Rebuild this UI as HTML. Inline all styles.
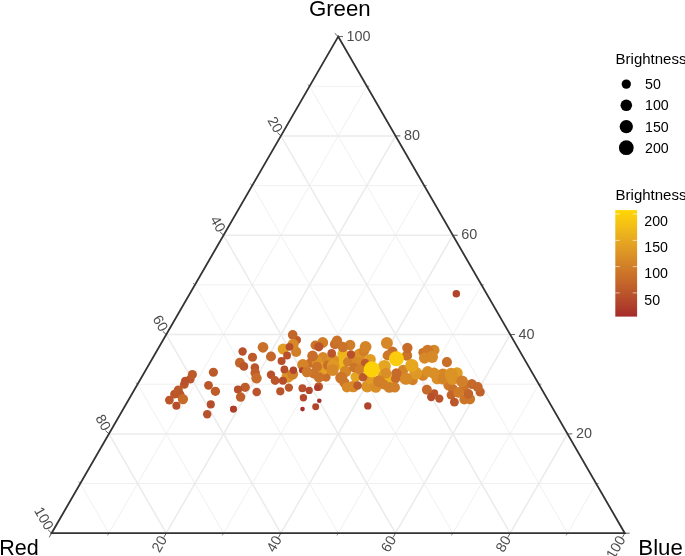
<!DOCTYPE html><html><head><meta charset="utf-8"><title>Ternary plot</title>
<style>html,body{margin:0;padding:0;background:#fff;}body{width:685px;height:556px;overflow:hidden;}svg{display:block;font-family:"Liberation Sans",sans-serif;}</style></head><body>
<svg width="685" height="556" viewBox="0 0 685 556">
<rect width="685" height="556" fill="#fff"/>
<g stroke="#EBEBEB" fill="none">
<path d="M80.26,483.54 L596.14,483.54" stroke-width="0.75"/>
<path d="M309.54,86.26 L567.48,533.20" stroke-width="0.75"/>
<path d="M366.86,86.26 L108.92,533.20" stroke-width="0.75"/>
<path d="M108.92,433.88 L567.48,433.88" stroke-width="1.50"/>
<path d="M280.88,135.92 L510.16,533.20" stroke-width="1.50"/>
<path d="M395.52,135.92 L166.24,533.20" stroke-width="1.50"/>
<path d="M137.58,384.22 L538.82,384.22" stroke-width="0.75"/>
<path d="M252.22,185.58 L452.84,533.20" stroke-width="0.75"/>
<path d="M424.18,185.58 L223.56,533.20" stroke-width="0.75"/>
<path d="M166.24,334.56 L510.16,334.56" stroke-width="1.50"/>
<path d="M223.56,235.24 L395.52,533.20" stroke-width="1.50"/>
<path d="M452.84,235.24 L280.88,533.20" stroke-width="1.50"/>
<path d="M194.90,284.90 L481.50,284.90" stroke-width="0.75"/>
<path d="M194.90,284.90 L338.20,533.20" stroke-width="0.75"/>
<path d="M481.50,284.90 L338.20,533.20" stroke-width="0.75"/>
<path d="M223.56,235.24 L452.84,235.24" stroke-width="1.50"/>
<path d="M166.24,334.56 L280.88,533.20" stroke-width="1.50"/>
<path d="M510.16,334.56 L395.52,533.20" stroke-width="1.50"/>
<path d="M252.22,185.58 L424.18,185.58" stroke-width="0.75"/>
<path d="M137.58,384.22 L223.56,533.20" stroke-width="0.75"/>
<path d="M538.82,384.22 L452.84,533.20" stroke-width="0.75"/>
<path d="M280.88,135.92 L395.52,135.92" stroke-width="1.50"/>
<path d="M108.92,433.88 L166.24,533.20" stroke-width="1.50"/>
<path d="M567.48,433.88 L510.16,533.20" stroke-width="1.50"/>
<path d="M309.54,86.26 L366.86,86.26" stroke-width="0.75"/>
<path d="M80.26,483.54 L108.92,533.20" stroke-width="0.75"/>
<path d="M596.14,483.54 L567.48,533.20" stroke-width="0.75"/>
</g>
<g>
<circle cx="190.2" cy="379.2" r="4.40" fill="#BB562B"/>
<circle cx="184.3" cy="384.3" r="4.40" fill="#BB562B"/>
<circle cx="174.5" cy="394.1" r="4.40" fill="#BB562B"/>
<circle cx="239.9" cy="362.8" r="4.98" fill="#C3652A"/>
<circle cx="254.9" cy="367.6" r="4.33" fill="#BA542B"/>
<circle cx="245.2" cy="387.3" r="4.67" fill="#BE5C2A"/>
<circle cx="297.0" cy="340.0" r="3.96" fill="#BD5A2A"/>
<circle cx="296.2" cy="351.9" r="5.05" fill="#D07E28"/>
<circle cx="283.2" cy="349.1" r="5.51" fill="#E19C23"/>
<circle cx="315.2" cy="345.2" r="4.67" fill="#CB7329"/>
<circle cx="322.7" cy="342.5" r="5.47" fill="#D07E28"/>
<circle cx="310.5" cy="363.0" r="4.83" fill="#C86F29"/>
<circle cx="323.0" cy="357.5" r="5.43" fill="#D68727"/>
<circle cx="287.8" cy="376.5" r="6.24" fill="#DC9325"/>
<circle cx="318.7" cy="386.6" r="4.34" fill="#BA542B"/>
<circle cx="302.9" cy="364.7" r="5.72" fill="#D48327"/>
<circle cx="301.8" cy="370.2" r="2.91" fill="#B0422B"/>
<circle cx="317.2" cy="361.5" r="5.58" fill="#DC9325"/>
<circle cx="326.0" cy="377.0" r="4.65" fill="#C86F29"/>
<circle cx="335.0" cy="344.2" r="5.08" fill="#C86D2A"/>
<circle cx="350.1" cy="345.0" r="5.29" fill="#D07E28"/>
<circle cx="342.9" cy="354.1" r="5.61" fill="#EDB41C"/>
<circle cx="359.6" cy="354.9" r="6.33" fill="#DB9125"/>
<circle cx="364.0" cy="351.0" r="5.17" fill="#D07E28"/>
<circle cx="370.3" cy="359.4" r="5.51" fill="#E19C23"/>
<circle cx="340.4" cy="363.0" r="6.69" fill="#EFB81A"/>
<circle cx="323.7" cy="368.5" r="6.00" fill="#E3A022"/>
<circle cx="353.5" cy="361.5" r="5.16" fill="#D78927"/>
<circle cx="345.5" cy="371.5" r="5.72" fill="#D58627"/>
<circle cx="344.5" cy="382.7" r="5.07" fill="#CC7529"/>
<circle cx="346.9" cy="387.4" r="5.07" fill="#D78927"/>
<circle cx="353.2" cy="386.6" r="5.75" fill="#D78927"/>
<circle cx="367.3" cy="386.5" r="6.01" fill="#DC9325"/>
<circle cx="355.6" cy="376.8" r="5.14" fill="#E5A421"/>
<circle cx="370.3" cy="378.7" r="5.36" fill="#E19C23"/>
<circle cx="392.4" cy="351.7" r="5.22" fill="#C86F29"/>
<circle cx="387.7" cy="355.5" r="5.09" fill="#CD7729"/>
<circle cx="407.0" cy="355.5" r="5.18" fill="#CB7329"/>
<circle cx="384.5" cy="366.2" r="6.32" fill="#E5A421"/>
<circle cx="383.5" cy="375.2" r="5.71" fill="#E3A022"/>
<circle cx="390.0" cy="380.3" r="5.30" fill="#EDB41C"/>
<circle cx="375.8" cy="387.4" r="5.36" fill="#D98E26"/>
<circle cx="403.1" cy="370.0" r="5.24" fill="#D48327"/>
<circle cx="405.1" cy="378.7" r="5.75" fill="#D78927"/>
<circle cx="422.9" cy="375.6" r="5.24" fill="#D48327"/>
<circle cx="412.7" cy="380.3" r="5.04" fill="#D17F28"/>
<circle cx="422.9" cy="352.5" r="4.58" fill="#CB7329"/>
<circle cx="434.0" cy="350.2" r="5.51" fill="#D58627"/>
<circle cx="437.2" cy="378.7" r="5.60" fill="#D98E26"/>
<circle cx="443.0" cy="374.6" r="6.02" fill="#D58627"/>
<circle cx="434.3" cy="393.2" r="3.89" fill="#BB562B"/>
<circle cx="439.3" cy="398.6" r="4.19" fill="#BA542B"/>
<circle cx="457.0" cy="373.1" r="5.75" fill="#E19C23"/>
<circle cx="480.2" cy="391.9" r="4.62" fill="#C0602A"/>
<circle cx="448.7" cy="385.3" r="5.32" fill="#CE7929"/>
<circle cx="452.9" cy="389.0" r="4.95" fill="#CB7329"/>
<circle cx="451.1" cy="395.0" r="4.46" fill="#C3652A"/>
<circle cx="454.4" cy="402.1" r="4.46" fill="#BC572B"/>
<circle cx="470.0" cy="399.1" r="5.15" fill="#CD7729"/>
<circle cx="464.3" cy="399.6" r="4.97" fill="#CC7529"/>
<circle cx="463.8" cy="388.3" r="4.88" fill="#CB7329"/>
<circle cx="313.5" cy="373.5" r="4.88" fill="#CB7329"/>
<circle cx="359.5" cy="362.5" r="5.16" fill="#D78927"/>
<circle cx="443.2" cy="379.0" r="5.54" fill="#D48327"/>
<circle cx="192.4" cy="374.6" r="4.57" fill="#BD5A2A"/>
<circle cx="185.2" cy="380.9" r="4.22" fill="#B8512B"/>
<circle cx="178.3" cy="390.1" r="4.57" fill="#BD5A2A"/>
<circle cx="180.2" cy="394.7" r="4.40" fill="#BB562B"/>
<circle cx="169.4" cy="400.1" r="4.40" fill="#BB562B"/>
<circle cx="176.4" cy="405.8" r="4.03" fill="#B64D2B"/>
<circle cx="213.4" cy="372.3" r="4.57" fill="#BD5A2A"/>
<circle cx="208.5" cy="385.3" r="4.40" fill="#BB562B"/>
<circle cx="215.4" cy="391.3" r="4.67" fill="#BE5C2A"/>
<circle cx="210.8" cy="404.4" r="4.03" fill="#B64D2B"/>
<circle cx="207.2" cy="414.3" r="4.22" fill="#B8512B"/>
<circle cx="233.4" cy="409.2" r="3.38" fill="#AF3F2B"/>
<circle cx="242.6" cy="351.5" r="4.22" fill="#B8512B"/>
<circle cx="252.5" cy="357.2" r="4.57" fill="#BD5A2A"/>
<circle cx="243.9" cy="366.4" r="4.40" fill="#BB562B"/>
<circle cx="263.0" cy="347.3" r="5.33" fill="#C86F29"/>
<circle cx="271.0" cy="356.5" r="5.04" fill="#C4672A"/>
<circle cx="255.2" cy="372.9" r="4.74" fill="#BF5E2A"/>
<circle cx="271.0" cy="374.8" r="4.22" fill="#B8512B"/>
<circle cx="275.1" cy="380.5" r="4.40" fill="#BB562B"/>
<circle cx="238.0" cy="389.5" r="4.11" fill="#B74F2B"/>
<circle cx="240.6" cy="397.1" r="4.74" fill="#BF5E2A"/>
<circle cx="256.7" cy="392.0" r="4.33" fill="#BA542B"/>
<circle cx="292.7" cy="334.9" r="4.84" fill="#C3652A"/>
<circle cx="293.1" cy="344.4" r="5.54" fill="#D78927"/>
<circle cx="281.6" cy="361.0" r="4.01" fill="#B74F2B"/>
<circle cx="318.8" cy="346.8" r="4.58" fill="#BA542B"/>
<circle cx="312.6" cy="356.0" r="5.41" fill="#C86D2A"/>
<circle cx="292.7" cy="374.2" r="5.43" fill="#D17F28"/>
<circle cx="282.9" cy="380.8" r="4.01" fill="#B74F2B"/>
<circle cx="288.9" cy="387.6" r="4.16" fill="#BC572B"/>
<circle cx="280.3" cy="391.3" r="4.10" fill="#BA542B"/>
<circle cx="302.4" cy="388.3" r="3.96" fill="#B74F2B"/>
<circle cx="309.2" cy="390.4" r="3.61" fill="#B2462B"/>
<circle cx="317.3" cy="387.8" r="3.18" fill="#AE3C2B"/>
<circle cx="303.4" cy="397.7" r="3.68" fill="#B4492B"/>
<circle cx="319.3" cy="400.7" r="2.31" fill="#A8302A"/>
<circle cx="315.7" cy="406.7" r="3.49" fill="#B2462B"/>
<circle cx="302.5" cy="409.1" r="2.33" fill="#A72E2A"/>
<circle cx="307.0" cy="372.0" r="5.35" fill="#CE7929"/>
<circle cx="316.9" cy="366.8" r="5.17" fill="#CB7429"/>
<circle cx="318.9" cy="377.3" r="5.29" fill="#CB7429"/>
<circle cx="337.0" cy="340.7" r="5.16" fill="#CB7329"/>
<circle cx="342.9" cy="347.0" r="5.16" fill="#CB7329"/>
<circle cx="365.6" cy="346.8" r="5.88" fill="#D48427"/>
<circle cx="365.1" cy="363.0" r="4.32" fill="#BD5A2A"/>
<circle cx="332.6" cy="360.3" r="6.38" fill="#DB9025"/>
<circle cx="347.7" cy="362.0" r="4.68" fill="#D17F28"/>
<circle cx="354.0" cy="367.7" r="4.83" fill="#CC7529"/>
<circle cx="359.6" cy="369.5" r="4.95" fill="#D17F28"/>
<circle cx="341.2" cy="377.8" r="6.00" fill="#CC7529"/>
<circle cx="357.6" cy="385.5" r="4.32" fill="#BD5A2A"/>
<circle cx="363.0" cy="377.2" r="4.32" fill="#BD5A2A"/>
<circle cx="386.9" cy="342.9" r="6.00" fill="#D68727"/>
<circle cx="407.4" cy="347.8" r="5.17" fill="#C66B2A"/>
<circle cx="386.1" cy="373.2" r="5.38" fill="#DA8F26"/>
<circle cx="395.6" cy="378.7" r="4.68" fill="#C66B2A"/>
<circle cx="383.7" cy="384.5" r="5.02" fill="#D07E28"/>
<circle cx="389.3" cy="387.4" r="5.43" fill="#D17F28"/>
<circle cx="394.8" cy="387.4" r="5.19" fill="#D17F28"/>
<circle cx="415.8" cy="373.2" r="6.39" fill="#DF9824"/>
<circle cx="406.3" cy="378.7" r="6.03" fill="#D78927"/>
<circle cx="427.7" cy="350.2" r="5.56" fill="#CE7929"/>
<circle cx="424.5" cy="358.1" r="5.54" fill="#D78927"/>
<circle cx="446.9" cy="362.1" r="5.10" fill="#C86F29"/>
<circle cx="427.7" cy="371.6" r="5.60" fill="#D98E26"/>
<circle cx="434.0" cy="373.2" r="5.60" fill="#D98E26"/>
<circle cx="426.9" cy="389.8" r="4.98" fill="#C5682A"/>
<circle cx="431.2" cy="397.0" r="4.17" fill="#B74F2B"/>
<circle cx="451.1" cy="374.3" r="6.47" fill="#DC9325"/>
<circle cx="471.8" cy="384.0" r="5.12" fill="#C66A2A"/>
<circle cx="477.7" cy="387.1" r="4.98" fill="#C5682A"/>
<circle cx="458.7" cy="392.4" r="5.35" fill="#CF7B28"/>
<circle cx="452.5" cy="379.0" r="5.88" fill="#DC9325"/>
<circle cx="456.3" cy="293.8" r="3.73" fill="#B1442B"/>
<circle cx="367.8" cy="405.9" r="3.69" fill="#B1442B"/>
<circle cx="233.5" cy="409.1" r="3.33" fill="#AF3F2B"/>
<circle cx="327.7" cy="365.4" r="4.83" fill="#C86F29"/>
<circle cx="333.3" cy="365.7" r="6.33" fill="#DF9824"/>
<circle cx="182.9" cy="399.1" r="5.18" fill="#C66B2A"/>
<circle cx="256.5" cy="378.2" r="5.21" fill="#C76C2A"/>
<circle cx="289.5" cy="346.8" r="3.90" fill="#B74F2B"/>
<circle cx="287.1" cy="355.5" r="3.94" fill="#B8512B"/>
<circle cx="284.4" cy="369.4" r="3.90" fill="#B74F2B"/>
<circle cx="293.4" cy="370.2" r="3.69" fill="#B1442B"/>
<circle cx="351.0" cy="354.5" r="4.18" fill="#B8512B"/>
<circle cx="371.7" cy="369.4" r="8.08" fill="#FCD108"/>
<circle cx="332.7" cy="370.0" r="6.03" fill="#D78927"/>
<circle cx="396.4" cy="358.7" r="7.50" fill="#FACC0D"/>
<circle cx="396.4" cy="373.5" r="5.17" fill="#C66B2A"/>
<circle cx="379.0" cy="381.1" r="5.89" fill="#D07E28"/>
<circle cx="411.8" cy="365.5" r="6.61" fill="#E6A620"/>
<circle cx="432.0" cy="356.9" r="6.03" fill="#D78927"/>
<circle cx="462.1" cy="381.4" r="5.94" fill="#D17F28"/>
<circle cx="468.4" cy="394.0" r="4.88" fill="#C3652A"/>
<circle cx="331.7" cy="353.3" r="4.37" fill="#BB562B"/>
</g>
<g stroke="#333333" fill="none">
<path d="M624.80,533.20 l4.80,0" stroke-width="0.80"/>
<path d="M338.20,36.60 l-3.46,-3.31" stroke-width="0.80"/>
<path d="M51.60,533.20 l-2.40,4.16" stroke-width="0.80"/>
<path d="M596.14,483.54 l2.60,0" stroke-width="0.55"/>
<path d="M309.54,86.26 l-1.87,-1.79" stroke-width="0.55"/>
<path d="M108.92,533.20 l-1.30,2.25" stroke-width="0.55"/>
<path d="M567.48,433.88 l4.80,0" stroke-width="0.80"/>
<path d="M280.88,135.92 l-3.46,-3.31" stroke-width="0.80"/>
<path d="M166.24,533.20 l-2.40,4.16" stroke-width="0.80"/>
<path d="M538.82,384.22 l2.60,0" stroke-width="0.55"/>
<path d="M252.22,185.58 l-1.87,-1.79" stroke-width="0.55"/>
<path d="M223.56,533.20 l-1.30,2.25" stroke-width="0.55"/>
<path d="M510.16,334.56 l4.80,0" stroke-width="0.80"/>
<path d="M223.56,235.24 l-3.46,-3.31" stroke-width="0.80"/>
<path d="M280.88,533.20 l-2.40,4.16" stroke-width="0.80"/>
<path d="M481.50,284.90 l2.60,0" stroke-width="0.55"/>
<path d="M194.90,284.90 l-1.87,-1.79" stroke-width="0.55"/>
<path d="M338.20,533.20 l-1.30,2.25" stroke-width="0.55"/>
<path d="M452.84,235.24 l4.80,0" stroke-width="0.80"/>
<path d="M166.24,334.56 l-3.46,-3.31" stroke-width="0.80"/>
<path d="M395.52,533.20 l-2.40,4.16" stroke-width="0.80"/>
<path d="M424.18,185.58 l2.60,0" stroke-width="0.55"/>
<path d="M137.58,384.22 l-1.87,-1.79" stroke-width="0.55"/>
<path d="M452.84,533.20 l-1.30,2.25" stroke-width="0.55"/>
<path d="M395.52,135.92 l4.80,0" stroke-width="0.80"/>
<path d="M108.92,433.88 l-3.46,-3.31" stroke-width="0.80"/>
<path d="M510.16,533.20 l-2.40,4.16" stroke-width="0.80"/>
<path d="M366.86,86.26 l2.60,0" stroke-width="0.55"/>
<path d="M80.26,483.54 l-1.87,-1.79" stroke-width="0.55"/>
<path d="M567.48,533.20 l-1.30,2.25" stroke-width="0.55"/>
<path d="M338.20,36.60 l4.80,0" stroke-width="0.80"/>
<path d="M51.60,533.20 l-3.46,-3.31" stroke-width="0.80"/>
<path d="M624.80,533.20 l-2.40,4.16" stroke-width="0.80"/>
</g>
<path d="M338.20,36.60 L51.60,533.20 L624.80,533.20 Z" fill="none" stroke="#333333" stroke-width="1.8" stroke-linejoin="miter"/>
<g fill="#4D4D4D" font-size="14.40">
<text x="575.88" y="438.04">20</text>
<text transform="translate(278.58,131.94) rotate(60)" y="4.16" text-anchor="end">20</text>
<text transform="translate(163.94,537.18) rotate(-60)" y="4.16" text-anchor="end">20</text>
<text x="518.56" y="338.72">40</text>
<text transform="translate(221.26,231.26) rotate(60)" y="4.16" text-anchor="end">40</text>
<text transform="translate(278.58,537.18) rotate(-60)" y="4.16" text-anchor="end">40</text>
<text x="461.24" y="239.40">60</text>
<text transform="translate(163.94,330.58) rotate(60)" y="4.16" text-anchor="end">60</text>
<text transform="translate(393.22,537.18) rotate(-60)" y="4.16" text-anchor="end">60</text>
<text x="403.92" y="140.08">80</text>
<text transform="translate(106.62,429.90) rotate(60)" y="4.16" text-anchor="end">80</text>
<text transform="translate(507.86,537.18) rotate(-60)" y="4.16" text-anchor="end">80</text>
<text x="346.60" y="40.76">100</text>
<text transform="translate(49.30,529.22) rotate(60)" y="4.16" text-anchor="end">100</text>
<text transform="translate(622.50,537.18) rotate(-60)" y="4.16" text-anchor="end">100</text>
</g>
<g fill="#000" font-size="22.25">
<text x="339.8" y="15.8" text-anchor="middle">Green</text>
<text x="-0.7" y="555.1" font-size="21.5">Red</text>
<text x="638.3" y="555.1">Blue</text>
</g>
<g fill="#000">
<text x="615.6" y="63.7" font-size="15.0">Brightness</text>
<circle cx="626.3" cy="84.1" r="4.65"/>
<text x="645" y="84.1" font-size="14.2" dominant-baseline="central">50</text>
<circle cx="626.3" cy="105.3" r="5.80"/>
<text x="645" y="105.3" font-size="14.2" dominant-baseline="central">100</text>
<circle cx="626.3" cy="126.6" r="6.65"/>
<text x="645" y="126.6" font-size="14.2" dominant-baseline="central">150</text>
<circle cx="626.3" cy="147.7" r="7.40"/>
<text x="645" y="147.7" font-size="14.2" dominant-baseline="central">200</text>
<text x="615.6" y="199.5" font-size="15.0">Brightness</text>
</g>
<defs><linearGradient id="cb" x1="0" y1="1" x2="0" y2="0">
<stop offset="0.00" stop-color="#A52A2A"/>
<stop offset="0.10" stop-color="#AF3F2B"/>
<stop offset="0.20" stop-color="#B8512B"/>
<stop offset="0.30" stop-color="#C2632A"/>
<stop offset="0.40" stop-color="#CB7329"/>
<stop offset="0.50" stop-color="#D48427"/>
<stop offset="0.60" stop-color="#DD9525"/>
<stop offset="0.70" stop-color="#E6A521"/>
<stop offset="0.80" stop-color="#EEB61B"/>
<stop offset="0.90" stop-color="#F7C612"/>
<stop offset="1.00" stop-color="#FFD700"/>
</linearGradient></defs>
<rect x="615.3" y="210.1" width="21.8" height="106.5" fill="url(#cb)"/>
<g stroke="#fff" stroke-width="0.6">
<path d="M615.3,214.0 h4.4 M637.1,214.0 h-4.4"/>
<path d="M615.3,240.4 h4.4 M637.1,240.4 h-4.4"/>
<path d="M615.3,266.6 h4.4 M637.1,266.6 h-4.4"/>
<path d="M615.3,292.9 h4.4 M637.1,292.9 h-4.4"/>
</g>
<g fill="#000" font-size="14.2">
<text x="644.3" y="226.0">200</text>
<text x="644.3" y="252.0">150</text>
<text x="644.3" y="278.3">100</text>
<text x="644.3" y="304.5">50</text>
</g>
</svg></body></html>
